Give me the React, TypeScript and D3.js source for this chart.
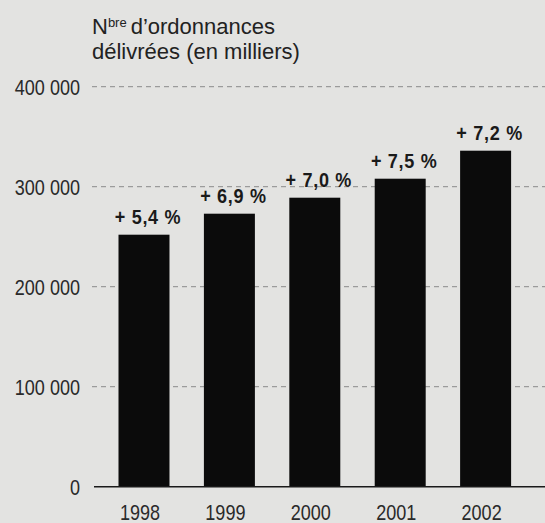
import React from "react";
import * as d3 from "d3";

const years: string[] = ["1998", "1999", "2000", "2001", "2002"];
const values: number[] = [252000, 273000, 289000, 308000, 336000];
const growthLabels: string[] = ["+ 5,4 %", "+ 6,9 %", "+ 7,0 %", "+ 7,5 %", "+ 7,2 %"];
const yTicks: number[] = [0, 100000, 200000, 300000, 400000];
const yTickLabels: string[] = ["0", "100 000", "200 000", "300 000", "400 000"];

const W = 545;
const H = 523;
const SANS = "'Liberation Sans', Arial, Helvetica, sans-serif";
const CONDENSE = 0.82;

function CText(props: {
  x: number;
  y: number;
  anchor: "start" | "middle" | "end";
  size: number;
  weight?: string;
  spacing?: number;
  sx?: number;
  fill: string;
  children: React.ReactNode;
}) {
  const sx = props.sx ?? CONDENSE;
  return (
    <text
      transform={`translate(${props.x},${props.y}) scale(${sx},1)`}
      textAnchor={props.anchor}
      fontFamily={SANS}
      fontSize={props.size}
      fontWeight={props.weight ?? "normal"}
      letterSpacing={props.spacing ?? 0}
      fill={props.fill}
    >
      {props.children}
    </text>
  );
}

export default function App() {
  const y = d3.scaleLinear().domain([0, 400000]).range([486.7, 86.7]);
  const x = d3
    .scaleBand<string>()
    .domain(years)
    .range([118.5, 511.1])
    .paddingInner(0.403)
    .paddingOuter(0);
  const bw = x.bandwidth();

  return (
    <div style={{ position: "absolute", left: 0, top: 0 }}>
      <svg width={W} height={H} style={{ display: "block" }}>
        <rect x={0} y={0} width={W} height={H} fill="#e3e3e1" />
        {/* title */}
        <text x={92} y={34} fontFamily={SANS} fontSize={22} fill="#222">
          N
          <tspan fontSize={13} dy={-7}>bre</tspan>
          <tspan dy={7} dx={4}>d’ordonnances</tspan>
        </text>
        <text x={92} y={58.5} fontFamily={SANS} fontSize={22} fill="#222">
          délivrées (en milliers)
        </text>
        {/* gridlines */}
        {yTicks.filter((t) => t > 0).map((t) => (
          <line
            key={t}
            x1={92}
            x2={W}
            y1={y(t)}
            y2={y(t)}
            stroke="#8a8a8a"
            strokeWidth={1}
            strokeDasharray="5,4"
          />
        ))}
        {/* y tick labels */}
        {yTicks.map((t, i) => (
          <CText key={t} x={80} y={y(t) + 8} anchor="end" size={22} fill="#2a2a2a">
            {yTickLabels[i]}
          </CText>
        ))}
        {/* bars */}
        {years.map((yr, i) => (
          <rect
            key={yr}
            x={x(yr)}
            y={y(values[i])}
            width={bw}
            height={y(0) - y(values[i])}
            fill="#0b0b0b"
          />
        ))}
        {/* growth labels */}
        {years.map((yr, i) => (
          <CText
            key={yr}
            x={(x(yr) as number) + bw / 2 + 4}
            y={y(values[i]) - 11}
            anchor="middle"
            size={21}
            weight="bold"
            spacing={0.8}
            sx={0.86}
            fill="#1a1a1a"
          >
            {growthLabels[i]}
          </CText>
        ))}
        {/* axis line */}
        <line x1={94} x2={W} y1={y(0)} y2={y(0)} stroke="#1a1a1a" strokeWidth={1.6} />
        {/* year labels */}
        {years.map((yr) => (
          <CText
            key={yr}
            x={(x(yr) as number) + bw / 2 - 4}
            y={520}
            anchor="middle"
            size={22}
            fill="#2a2a2a"
          >
            {yr}
          </CText>
        ))}
      </svg>
    </div>
  );
}
